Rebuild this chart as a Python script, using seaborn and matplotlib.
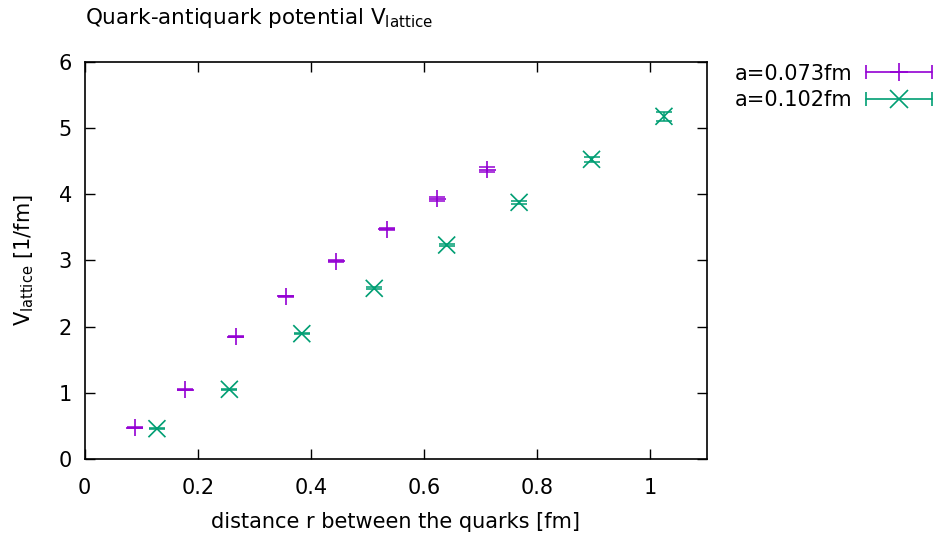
import matplotlib
matplotlib.use("Agg")
import matplotlib.pyplot as plt
import pandas as pd
import seaborn as sns
from matplotlib.lines import Line2D
from matplotlib.legend_handler import HandlerLine2D, HandlerTuple

sns.set_style("ticks", {"text.color": "black", "axes.labelcolor": "black",
                        "xtick.color": "black", "ytick.color": "black"})
plt.rcParams["font.family"] = ["DejaVu Sans"]
plt.rcParams["mathtext.default"] = "regular"

# a = 0.073 fm
r_fine = [0.089, 0.178, 0.267, 0.356, 0.445, 0.534, 0.623, 0.712]
v_fine = [0.473, 1.047, 1.848, 2.458, 2.992, 3.475, 3.933, 4.371]
err_fine = [0.005, 0.006, 0.008, 0.010, 0.015, 0.020, 0.030, 0.040]

# a = 0.102 fm
r_coarse = [0.128, 0.256, 0.384, 0.512, 0.640, 0.768, 0.896, 1.024]
v_coarse = [0.458, 1.053, 1.894, 2.579, 3.234, 3.879, 4.529, 5.179]
err_coarse = [0.005, 0.008, 0.010, 0.015, 0.020, 0.025, 0.040, 0.070]

labels = ["a=0.073fm", "a=0.102fm"]
colors = ["#9400D3", "#009E73"]
markers = ["+", "x"]

x_ticks = [0, 0.2, 0.4, 0.6, 0.8, 1.0]
x_ticklabels = ["0", "0.2", "0.4", "0.6", "0.8", "1"]
y_ticks = [0, 1, 2, 3, 4, 5, 6]

data = pd.concat([
    pd.DataFrame({"r": r_fine, "V": v_fine, "err": err_fine, "kind": labels[0]}),
    pd.DataFrame({"r": r_coarse, "V": v_coarse, "err": err_coarse, "kind": labels[1]}),
])

fig = plt.figure(figsize=(9.36, 5.37), dpi=100)
ax = fig.add_axes([0.0903, 0.1453, 0.6650, 0.7392])

for kind, color in zip(labels, colors):
    sub = data[data["kind"] == kind]
    ax.errorbar(sub["r"], sub["V"], yerr=sub["err"], fmt="none",
                ecolor=color, elinewidth=1.1, capsize=5.5, capthick=1.1)

sns.scatterplot(data=data, x="r", y="V", hue="kind", style="kind",
                palette=dict(zip(labels, colors)),
                markers=dict(zip(labels, markers)),
                s=150, linewidth=1.2, legend=False, ax=ax)

ax.set_xlim(0, 1.1)
ax.set_ylim(0, 6)
ax.set_xticks(x_ticks)
ax.set_xticklabels(x_ticklabels)
ax.set_yticks(y_ticks)
ax.tick_params(direction="in", length=7, width=1, top=True, right=True,
               labelsize=15, colors="black")
ax.tick_params(axis="x", pad=14)
ax.tick_params(axis="y", pad=9)
for s in ax.spines.values():
    s.set_linewidth(1.2)
    s.set_color("black")

ax.set_xlabel("distance r between the quarks [fm]", fontsize=15, labelpad=10)
ax.set_ylabel("V$_{lattice}$ [1/fm]", fontsize=15, labelpad=16)
fig.text(0.091, 0.966, "Quark-antiquark potential V$_{lattice}$",
         fontsize=15.5, ha="left", va="center")

# gnuplot-style legend keys: line with end caps and the point marker in the middle
handles = []
hmap = {}
for color, m in zip(colors, markers):
    caps = Line2D([], [], color=color, marker="|", markersize=10, lw=1.2, mew=1.2)
    pt = Line2D([], [], color=color, marker=m, markersize=13, ls="none", mew=1.2)
    hmap[caps] = HandlerLine2D(numpoints=2)
    handles.append((caps, pt))
hmap[tuple] = HandlerTuple(ndivide=1)
fig.legend(handles, labels, handler_map=hmap, loc="upper right",
           bbox_to_anchor=(1.011, 0.897), frameon=False, markerfirst=False,
           fontsize=15, handlelength=3.75, handletextpad=0.36, labelspacing=0.3,
           borderaxespad=0)

fig.savefig("out.png", dpi=100)
